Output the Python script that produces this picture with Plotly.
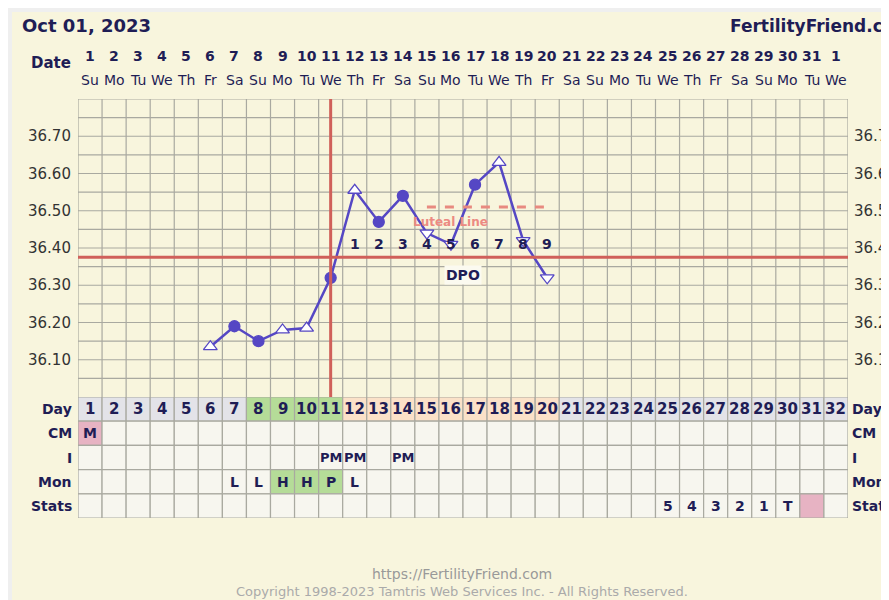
import plotly.graph_objects as go

OFF = 8  # browser body margin
W, H = 889 - OFF, 600 - OFF
days = list(range(1, 33))
dates = [str(d) for d in range(1, 32)] + ["1"]
weekdays = (["Su","Mo","Tu","We","Th","Fr","Sa"] * 5)[:32]
temp_days = [6, 7, 8, 9, 10, 11, 12, 13, 14, 15, 16, 17, 18, 19, 20]
temps = [36.135, 36.19, 36.15, 36.18, 36.185, 36.32, 36.555, 36.47, 36.54, 36.44, 36.41, 36.57, 36.63, 36.42, 36.32]
symbols = ["triangle-up","circle","circle","triangle-up","triangle-up","circle",
           "triangle-up","circle","circle","triangle-down","triangle-down","circle",
           "triangle-up","triangle-down","triangle-down"]
coverline = 36.375
ovulation_day = 11
luteal_line = 36.51
luteal_days = [15, 20]
dpo_days = list(range(12, 21))
dpo_labels = [str(i) for i in range(1, 10)]
temp_ticks = [36.10, 36.20, 36.30, 36.40, 36.50, 36.60, 36.70]
row_labels = ["Day", "CM", "I", "Mon", "Stats"]
cm = {1: "M"}
intercourse = {11: "PM", 12: "PM", 14: "PM"}
monitor = {7: "L", 8: "L", 9: "H", 10: "H", 11: "P", 12: "L"}
stats = {25: "5", 26: "4", 27: "3", 28: "2", 29: "1", 30: "T"}

NAVY = "#1f1d55"
LINE = "#5547c4"
RED = "#d0605a"
CREAM = "#f8f5dd"
GRID = "#a9a9a0"

def px(p):
    return (p - OFF) / W

def py(p):
    return 1 - (p - OFF) / H

fig = go.Figure()
fig.add_trace(go.Scatter(x=temp_days, y=temps, mode="lines+markers",
    line=dict(color=LINE, width=2.5),
    marker=dict(symbol=symbols, size=[11 if s == "circle" else 12 for s in symbols],
                color=[LINE if s == "circle" else "white" for s in symbols],
                opacity=1, line=dict(color=LINE, width=1.3)),
    cliponaxis=False, showlegend=False))

shapes = []
shapes.append(dict(type="rect", xref="paper", yref="paper", x0=px(12), x1=1, y0=0, y1=py(12),
                   fillcolor=CREAM, line=dict(width=0), layer="below"))
for d in range(0, 33):
    shapes.append(dict(type="line", xref="x", yref="y", x0=d+0.5, x1=d+0.5, y0=36.0, y1=36.8,
                       line=dict(color=GRID, width=1.2), layer="below"))
for k in range(1, 17):
    v = 36.0 + k * 0.05
    shapes.append(dict(type="line", xref="x", yref="y", x0=0.5, x1=32.5, y0=v, y1=v,
                       line=dict(color=GRID, width=1.2), layer="below"))
shapes.append(dict(type="line", xref="x", yref="y", x0=0.5, x1=32.5, y0=coverline, y1=coverline,
                   line=dict(color=RED, width=3)))
shapes.append(dict(type="line", xref="x", yref="y", x0=ovulation_day, x1=ovulation_day, y0=36.0, y1=36.8,
                   line=dict(color=RED, width=3)))
shapes.append(dict(type="line", xref="x", yref="y", x0=luteal_days[0], x1=luteal_days[1], y0=luteal_line, y1=luteal_line,
                   line=dict(color="#e88a80", width=3, dash="dash")))
for r in range(5):
    for d in days:
        fill = "#f7f6ef"
        if r == 0:
            if 8 <= d <= 11:
                fill = "#b5dc98"
            elif 12 <= d <= 20:
                fill = "#fbe1c8"
            else:
                fill = "#e3e3e8"
        if r == 1 and d in cm:
            fill = "#e7b3c3"
        if r == 3 and d in (9, 10, 11):
            fill = "#b5dc98"
        if r == 4 and d == 31:
            fill = "#e7b3c3"
        shapes.append(dict(type="rect", xref="x", yref="y2", x0=d-0.5, x1=d+0.5, y0=r, y1=r+1,
                           fillcolor=fill, line=dict(color=GRID, width=1.2)))

ann = []
def A(x, y, t, xref="x", yref="paper", size=14, color=NAVY, bold=True, xanchor="center", **kw):
    ann.append(dict(x=x, y=y, xref=xref, yref=yref, text=f"<b>{t}</b>" if bold else t, showarrow=False,
                    font=dict(family="DejaVu Sans", size=size, color=color), xanchor=xanchor,
                    yanchor="middle", **kw))

A(px(20), py(25), "Oct 01, 2023", xref="paper", size=18, xanchor="left")
A(px(728), py(26), "FertilityFriend.com", xref="paper", size=17, xanchor="left")
A(px(73), py(63), "Date", xref="paper", size=15, xanchor="right")
for d, t, w in zip(days, dates, weekdays):
    A(d, py(56), t, size=14)
    A(d, py(80), w, size=14, bold=False)
for v in temp_ticks:
    A(px(73), v, f"{v:.2f}", xref="paper", yref="y", size=15, color="#333", bold=False, xanchor="right")
    A(px(852), v, f"{v:.2f}", xref="paper", yref="y", size=15, color="#333", bold=False, xanchor="left")
for d, t in zip(dpo_days, dpo_labels):
    A(d, 36.412, t, yref="y", size=14)
A(16.5, 36.327, "DPO", yref="y", size=14, bgcolor="#fbfaf0")
A(16, 36.47, "Luteal Line", yref="y", size=12, color="#ec8a82")
for r, lab in enumerate(row_labels):
    A(px(74), r + 0.5, lab, xref="paper", yref="y2", size=14, xanchor="right")
    A(px(850), r + 0.5, lab, xref="paper", yref="y2", size=14, xanchor="left")
for d in days:
    A(d, 0.5, str(d), yref="y2", size=15)
for rr, dct in ((1, cm), (2, intercourse), (3, monitor), (4, stats)):
    for d, t in dct.items():
        A(d, rr + 0.5, t, yref="y2", size=14 if len(t) == 1 else 13)
A(px(462), py(574), "https://FertilityFriend.com", xref="paper", size=14, color="#999", bold=False)
A(px(462), py(591), "Copyright 1998-2023 Tamtris Web Services Inc. - All Rights Reserved.", xref="paper", size=13, color="#aaa", bold=False)

fig.update_layout(
    width=W, height=H, margin=dict(l=0, r=0, t=0, b=0),
    paper_bgcolor="#efefef", plot_bgcolor=CREAM,
    xaxis=dict(domain=[px(78), px(848)], range=[0.5, 32.5], showgrid=False, zeroline=False, showticklabels=False, fixedrange=True),
    yaxis=dict(domain=[py(397), py(99)], range=[36.0, 36.8], showgrid=False, zeroline=False, showticklabels=False),
    yaxis2=dict(domain=[py(518), py(397)], range=[5, 0], showgrid=False, zeroline=False, showticklabels=False),
    shapes=shapes, annotations=ann,
)
fig.write_html("out.html")
